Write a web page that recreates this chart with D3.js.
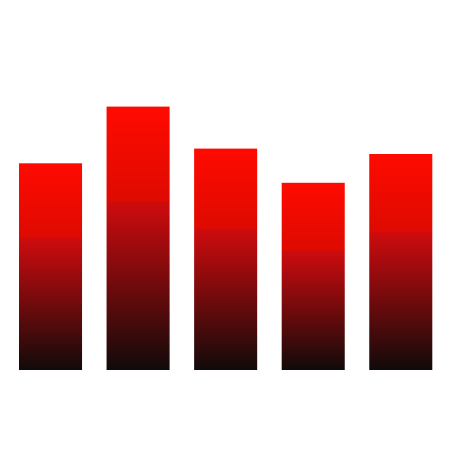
<!DOCTYPE html>
<html>
<head>
<meta charset="utf-8">
<script src="https://cdn.jsdelivr.net/npm/d3@7"></script>
<style>
  html, body { margin: 0; padding: 0; background: #fff; }
</style>
</head>
<body>
<div id="chart"></div>
<script>
// data
var categories = ["A", "B", "C", "D", "E"];
var values = [68.9, 87.8, 73.8, 62.4, 72.0];

// gradient stops (top -> bottom of each bar)
var stopOffsets = ["0%", "36%", "36.5%", "100%"];
var stopColors = ["#ff0a00", "#de0a00", "#ce0b0e", "#110a0a"];

var width = 451, height = 450;

var svg = d3.select("#chart")
  .append("svg")
    .attr("width", width)
    .attr("height", height);

var grad = svg.append("defs")
  .append("linearGradient")
    .attr("id", "barGrad")
    .attr("x1", "0").attr("y1", "0")
    .attr("x2", "0").attr("y2", "1");

grad.selectAll("stop")
  .data(stopOffsets)
  .join("stop")
    .attr("offset", function(d) { return d; })
    .attr("stop-color", function(d, i) { return stopColors[i]; });

var x = d3.scaleBand()
  .domain(categories)
  .range([19, 432.3])
  .paddingInner(0.28)
  .paddingOuter(0);

var y = d3.scaleLinear()
  .domain([0, 100])
  .range([370, 70]);

svg.append("g")
  .selectAll("rect")
  .data(values)
  .join("rect")
    .attr("x", function(d, i) { return x(categories[i]); })
    .attr("y", function(d) { return y(d); })
    .attr("width", x.bandwidth())
    .attr("height", function(d) { return y(0) - y(d); })
    .attr("fill", "url(#barGrad)");
</script>
</body>
</html>
